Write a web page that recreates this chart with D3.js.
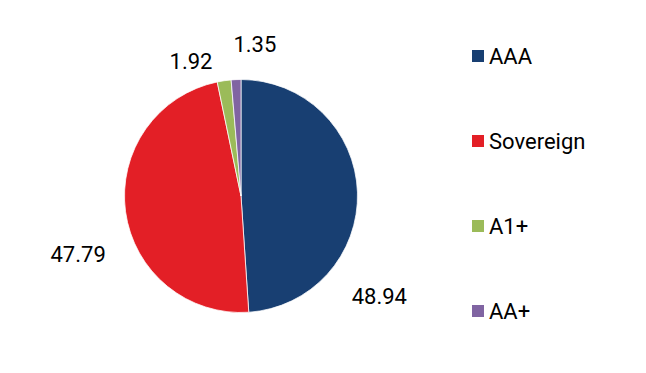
<!DOCTYPE html>
<meta charset="utf-8">
<style>
body { margin: 0; background: #fff; }
text { font-family: Roboto, sans-serif; font-size: 22px; fill: #000; }
</style>
<body>
<script src="https://cdn.jsdelivr.net/npm/d3@7"></script>
<script>
const categories = ["AAA", "Sovereign", "A1+", "AA+"];
const values = [48.94, 47.79, 1.92, 1.35];
const colors = ["#183f72", "#e31f26", "#9bbb59", "#8064a2"];
// label placement around the pie: angle (deg, clockwise from top) and distance
const labelAngles = [126, 250.3, 339.6, 5.2];
const labelRadii = [171, 173, 143.5, 153];

const width = 646, height = 373;
const cx = 241, cy = 196, r = 116.5;

const svg = d3.select("body").append("svg")
    .attr("width", width)
    .attr("height", height);

const pie = d3.pie().sort(null).value(d => d)(values);
const arc = d3.arc().innerRadius(0).outerRadius(r);

const g = svg.append("g").attr("transform", `translate(${cx},${cy})`);

g.selectAll("path")
  .data(pie)
  .join("path")
    .attr("d", arc)
    .attr("fill", (d, i) => colors[i])
    .attr("stroke", "#fff")
    .attr("stroke-width", 0.75);

g.selectAll("text")
  .data(pie)
  .join("text")
    .attr("transform", (d, i) => {
      const p = d3.pointRadial(labelAngles[i] * Math.PI / 180, labelRadii[i]);
      return `translate(${p[0]},${p[1]})`;
    })
    .attr("text-anchor", "middle")
    .attr("dy", "0.36em")
    .text(d => d.value.toFixed(2));

const y = d3.scalePoint().domain(categories).range([56, 311]);

const legend = svg.append("g")
  .selectAll("g")
  .data(categories)
  .join("g")
    .attr("transform", d => `translate(472,${y(d)})`);

legend.append("rect")
    .attr("x", 0)
    .attr("y", -6)
    .attr("width", 12)
    .attr("height", 12)
    .attr("fill", (d, i) => colors[i]);

legend.append("text")
    .attr("x", 17)
    .attr("dy", "0.38em")
    .text(d => d);
</script>
